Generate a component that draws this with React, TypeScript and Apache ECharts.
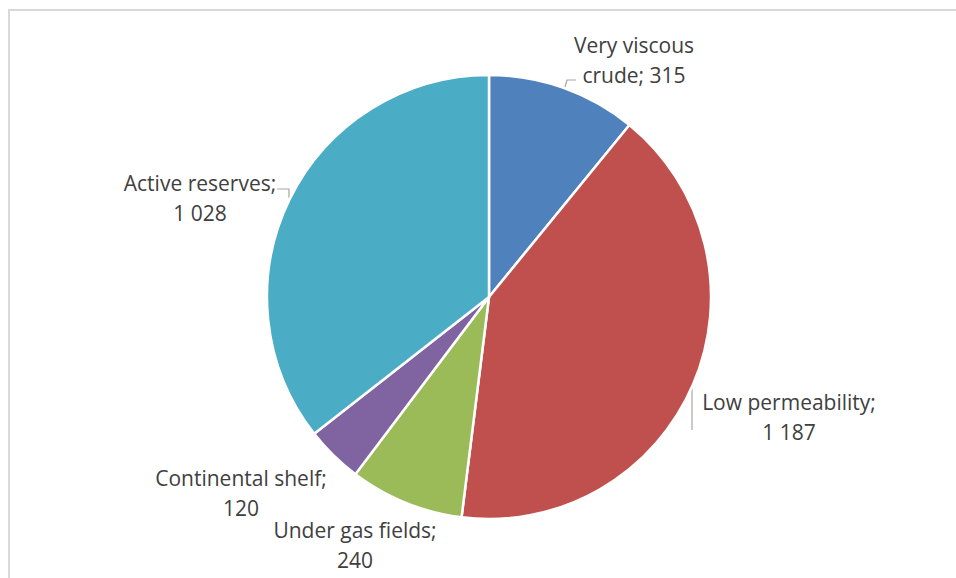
import React, { useEffect, useRef } from "react";
import * as echarts from "echarts";

// Oil reserves by category (million tonnes)
const categories = [
  "Very viscous crude",
  "Low permeability",
  "Under gas fields",
  "Continental shelf",
  "Active reserves",
];
const values = [315, 1187, 240, 120, 1028];
const colors = ["#4F81BD", "#C0504D", "#9BBB59", "#8064A2", "#4BACC6"];

// Label anchor points (centre of each text block)
const labelPos: [number, number][] = [
  [634, 60],
  [789, 417],
  [355, 545],
  [241, 493],
  [200, 198],
];
// Elbow leader lines (null where no leader is drawn)
const leaderPts: (number[][] | null)[] = [
  [[565, 87], [567, 80], [576, 80]],
  [[692, 386], [692, 408], [692, 430]],
  null,
  null,
  [[277, 189], [289, 189], [289, 198]],
];

const fmtNum = (v: number) => String(v).replace(/\B(?=(\d{3})+(?!\d))/g, " ");

const fmtLabel = (name: string, v: number, idx: number) => {
  if (idx === 0) return name.replace("viscous ", "viscous\n") + "; " + fmtNum(v);
  return name + ";\n" + fmtNum(v);
};

export default function App() {
  const ref = useRef<HTMLDivElement>(null);

  useEffect(() => {
    if (!ref.current) return;
    const chart = echarts.init(ref.current, undefined, { renderer: "svg" });
    chart.setOption({
      animation: false,
      backgroundColor: "#ffffff",
      graphic: [
        {
          type: "rect",
          shape: { x: 9, y: 10, width: 1000, height: 1000 },
          style: { fill: "none", stroke: "#d9d9d9", lineWidth: 2 },
          silent: true,
        },
      ],
      series: [
        {
          type: "pie",
          center: [489, 297],
          radius: 222,
          startAngle: 90,
          clockwise: true,
          itemStyle: { borderColor: "#ffffff", borderWidth: 2.5 },
          label: {
            show: true,
            position: "outside",
            color: "#404040",
            fontFamily: "Open Sans",
            fontSize: 21,
            lineHeight: 30,
            align: "center",
            formatter: (p: any) => fmtLabel(p.name, p.value, p.dataIndex),
          },
          labelLine: {
            show: true,
            length: 6,
            length2: 6,
            lineStyle: { color: "#a6a6a6", width: 1.2 },
          },
          labelLayout: (p: any) => {
            const [x, y] = labelPos[p.dataIndex];
            const pts = leaderPts[p.dataIndex];
            const out: any = { x, y, align: "center", verticalAlign: "middle" };
            if (pts) out.labelLinePoints = pts;
            return out;
          },
          data: categories.map((name, i) => ({
            name,
            value: values[i],
            itemStyle: { color: colors[i] },
            labelLine: { show: leaderPts[i] !== null },
          })),
        },
      ],
    });
    return () => chart.dispose();
  }, []);

  return (
    <div
      ref={ref}
      style={{ position: "fixed", left: 0, top: 0, width: 956, height: 578 }}
    />
  );
}
